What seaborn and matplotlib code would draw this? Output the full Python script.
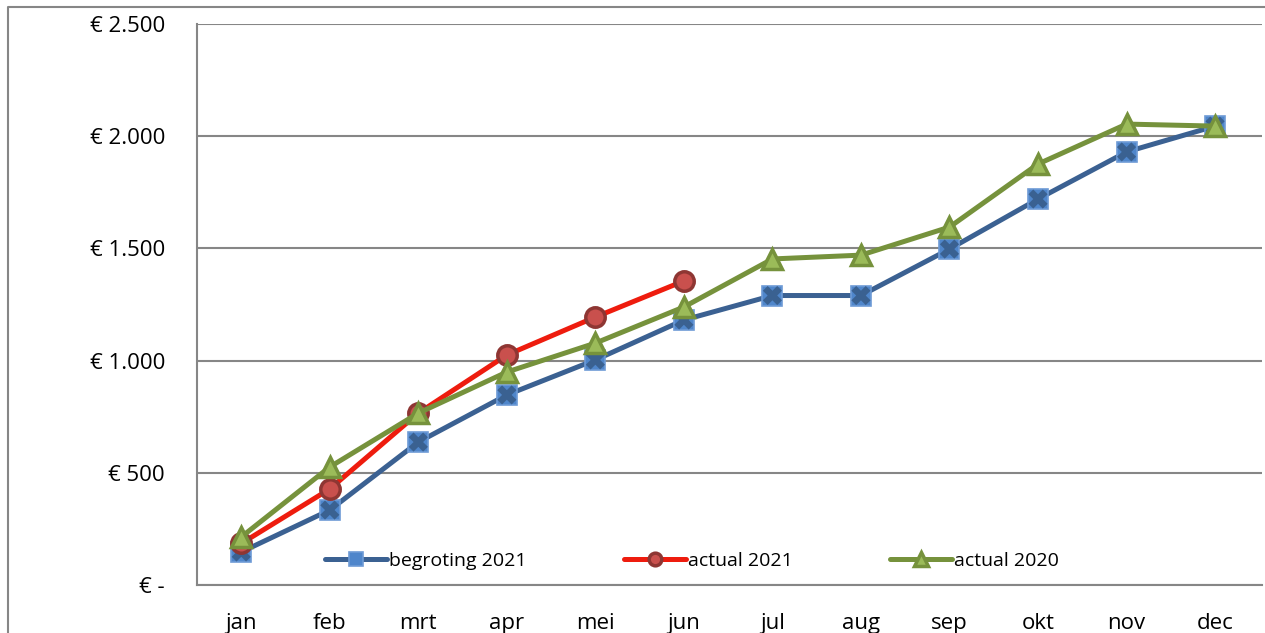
"""Cumulative budget vs. actuals per month, Excel-style line chart."""

import matplotlib

matplotlib.use("Agg")
import matplotlib.pyplot as plt
import numpy as np
import seaborn as sns
from matplotlib.lines import Line2D
from matplotlib.ticker import FixedLocator, FuncFormatter

months = ["jan", "feb", "mrt", "apr", "mei", "jun",
          "jul", "aug", "sep", "okt", "nov", "dec"]
begroting_2021 = [147, 334, 637, 847, 1003, 1181, 1290, 1290, 1497, 1720, 1930, 2045]
actual_2021 = [185, 428, 766, 1025, 1194, 1355]
actual_2020 = [214, 526, 766, 949, 1078, 1239, 1453, 1470, 1595, 1876, 2054, 2045]
y_ticks = [0, 500, 1000, 1500, 2000, 2500]


def euro(v, _pos=None):
    if v == 0:
        return "€ -"
    return "€ " + f"{int(v):,}".replace(",", ".")


sns.set_style("white")
plt.rcParams["font.family"] = ["Open Sans", "DejaVu Sans"]
plt.rcParams["text.color"] = "black"
plt.rcParams["xtick.labelcolor"] = "black"
plt.rcParams["ytick.labelcolor"] = "black"

fig = plt.figure(figsize=(12.65, 6.33), dpi=100)
ax = fig.add_axes([197 / 1265, 1 - 585 / 633, 1065 / 1265, 561 / 633])

x_all = np.arange(len(months))
x_2021 = np.arange(len(actual_2021))

sns.lineplot(x=x_all, y=begroting_2021, ax=ax, color="#3B6192", lw=3.6,
             marker="s", ms=15, mfc="#4F86CB", mec="#6E9BD6", mew=1.2,
             label="begroting 2021", zorder=3)
sns.scatterplot(x=x_all, y=begroting_2021, ax=ax, marker="X", s=190,
                color="#3A6191", edgecolor="none", zorder=3.5, legend=False)
sns.lineplot(x=x_2021, y=actual_2021, ax=ax, color="#EE1C0E", lw=3.6,
             marker="o", ms=14, mfc="#C9504D", mec="#8E3633", mew=2.5,
             label="actual 2021", zorder=4)
sns.lineplot(x=x_all, y=actual_2020, ax=ax, color="#76923C", lw=3.6,
             marker="^", ms=15, mfc="#9BBB59", mec="#76923C", mew=2.5,
             label="actual 2020", zorder=5)

ax.set_xlim(-0.5, len(months) - 0.5 + 0.03)
ax.set_ylim(0, 2500)
ax.yaxis.set_major_locator(FixedLocator(y_ticks))
ax.yaxis.set_major_formatter(FuncFormatter(euro))
ax.set_xticks(x_all)
ax.set_xticklabels(months)
ax.set_xticks(np.arange(-0.5, len(months)), minor=True)
ax.tick_params(axis="x", which="major", length=0, pad=20, labelsize=16,
               labelcolor="black")
ax.tick_params(axis="x", which="minor", length=8, width=1.3, color="#868686",
               direction="out")
ax.tick_params(axis="y", length=8, width=1.3, color="#868686", direction="out",
               pad=15, labelsize=16, labelcolor="black")
ax.grid(axis="y", color="#868686", lw=1.5)
ax.set_axisbelow(True)
for side in ("top", "right"):
    ax.spines[side].set_visible(False)
for side in ("left", "bottom"):
    ax.spines[side].set_color("#868686")
    ax.spines[side].set_linewidth(1.5)

ax.legend(loc="lower center", bbox_to_anchor=(0.465, -0.005), ncol=3,
          frameon=False, fontsize=14, columnspacing=5.0, handlelength=3.2,
          handletextpad=0.1, markerscale=0.65)

fig.add_artist(Line2D([8 / 1265, 8 / 1265, 1.0], [0.0, 1 - 7 / 633, 1 - 7 / 633],
                      color="#868686", lw=1.5))

fig.savefig("out.png", dpi=100)
